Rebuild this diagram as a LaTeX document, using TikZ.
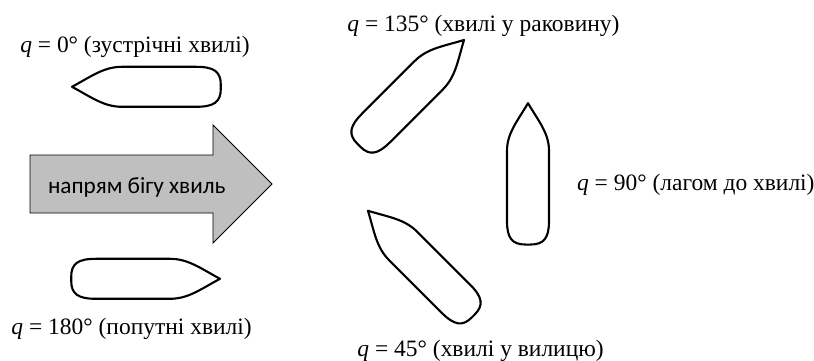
\documentclass[tikz,border=0pt]{standalone}
\usepackage{fontspec}
\setmainfont{Liberation Serif}
\newfontfamily\arrowfont{Carlito}
\usepackage{xcolor}
\usetikzlibrary{positioning}
\definecolor{arrowgray}{HTML}{BFBFBF}

\begin{document}
\begin{tikzpicture}[
    every node/.style={font=\fontsize{16.7}{19}\selectfont,inner sep=0pt},
    hull/.style={line width=1.5pt,line join=round},
    headlabel/.style={anchor=base west},
    ship/.pic={
        \draw[hull] (0,0) .. controls (-0.5,0.27) and (-0.8,0.5) .. (-1.25,0.5)
            -- (-3.1,0.5) .. controls (-3.55,0.5) and (-3.72,0.38) .. (-3.72,0.05)
            -- (-3.72,-0.05) .. controls (-3.72,-0.38) and (-3.55,-0.5) .. (-3.1,-0.5)
            -- (-1.25,-0.5) .. controls (-0.8,-0.5) and (-0.5,-0.27) .. (0,0) -- cycle;
    },
]
    \useasboundingbox (0,0) rectangle (20.35,9);

    % wave direction
    \draw[fill=arrowgray,line width=0.6pt] (0.75,3.675) -- (5.325,3.675) -- (5.325,2.925)
        -- (6.8,4.4) -- (5.325,5.875) -- (5.325,5.125) -- (0.75,5.125) -- cycle;
    \node[font=\arrowfont\fontsize{16.5}{19}\selectfont] (wavedir) at (3.42,4.31) {напрям бігу хвиль};

    % ships on the left
    \pic (shiphead) at (1.8,6.83) [rotate=180] {ship};
    \pic (shipfollow) at (5.5,2.03) {ship};

    % ships on the right
    \pic (shipbow) at (11.6,8) [rotate=45] {ship};
    \pic (shipbeam) at (13.2,6.42) [rotate=90,xscale=0.95,yscale=1.05] {ship};
    \pic (shipquarter) at (9.2,3.73) [rotate=135] {ship};

    % labels
    \node[headlabel] (labelhead) at (0.5,7.69) {\textit{q} = 0° (зустрічні хвилі)};
    \node[headlabel] (labelfollow) at (0.28,0.63) {\textit{q} = 180° (попутні хвилі)};
    \node[headlabel] (labelbow) at (8.68,8.2) {\textit{q} = 135° (хвилі у раковину)};
    \node[headlabel] (labelbeam) at (14.42,4.25) {\textit{q} = 90° (лагом до хвилі)};
    \node[headlabel] (labelquarter) at (8.93,0.1) {\textit{q} = 45° (хвилі у вилицю)};
\end{tikzpicture}
\end{document}
